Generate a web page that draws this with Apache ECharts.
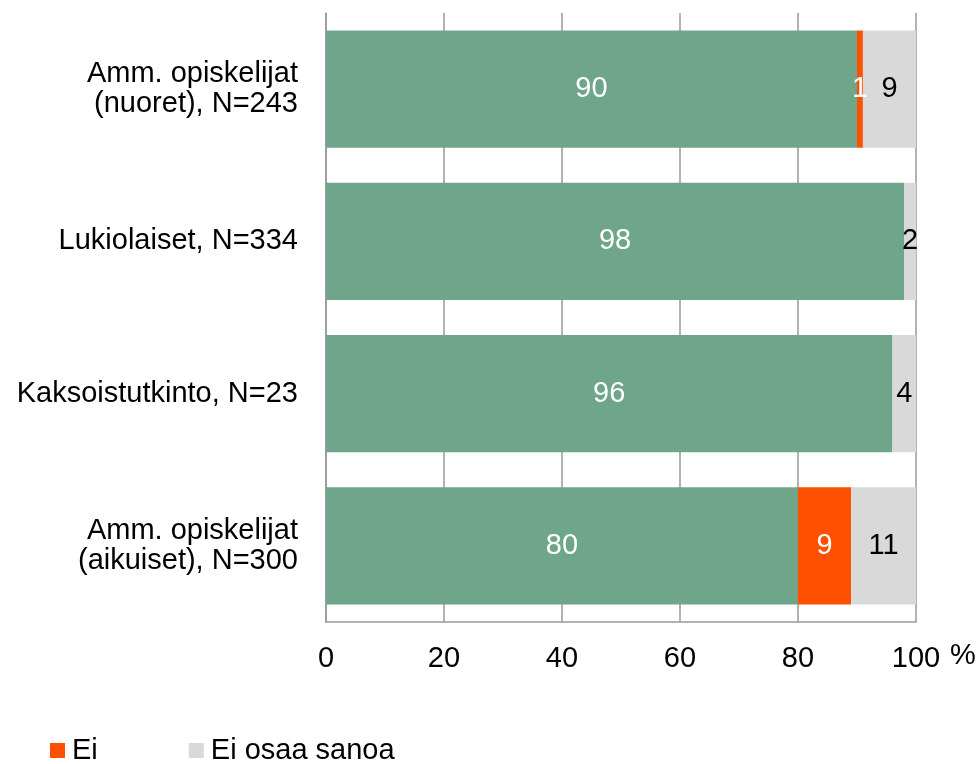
<!DOCTYPE html>
<html><head><meta charset="utf-8">
<script src="https://cdn.jsdelivr.net/npm/echarts@6/dist/echarts.min.js"></script>
<style>html,body{margin:0;padding:0;background:#fff}#c{width:978px;height:764px}</style>
</head><body><div id="c"></div>
<script>
const categories = ['Amm. opiskelijat\n(nuoret), N=243', 'Lukiolaiset, N=334', 'Kaksoistutkinto, N=23', 'Amm. opiskelijat\n(aikuiset), N=300'];
const kylla = [90, 98, 96, 80];
const ei = [1, 0, 0, 9];
const eos = [9, 2, 4, 11];
const xTicks = [0, 20, 40, 60, 80, 100];
const unitLabel = '%';

const font = 'Liberation Sans, Arial, sans-serif';
const FS = 29;
const chart = echarts.init(document.getElementById('c'));
const lbl = (color) => ({
  show: true, position: 'inside', color: color, fontSize: FS, fontFamily: font,
  formatter: p => (p.value ? p.value : '')
});
chart.setOption({
  animation: false,
  grid: { left: 326, right: 62, top: 13, bottom: 142, containLabel: false },
  xAxis: {
    type: 'value', min: 0, max: 100, interval: 20,
    axisLine: { show: true, lineStyle: { color: '#999', width: 1.5 } },
    axisTick: { show: false },
    axisLabel: { fontSize: FS, fontFamily: font, color: '#000', margin: 22,
      formatter: v => (xTicks.indexOf(v) >= 0 ? String(v) : '') },
    splitLine: { show: true, lineStyle: { color: '#999', width: 1.5 } }
  },
  yAxis: {
    type: 'category', data: categories, inverse: true,
    axisLine: { show: true, lineStyle: { color: '#999', width: 1.5 } },
    axisTick: { show: false },
    axisLabel: { fontSize: FS, fontFamily: font, color: '#000', margin: 28, lineHeight: 30, align: 'right' }
  },
  graphic: [{
    type: 'text', left: 950, top: 641,
    style: { text: unitLabel, fontSize: FS, fontFamily: font, fill: '#000' }
  }],
  legend: {
    data: ['Ei', 'Ei osaa sanoa'], left: 45, top: 731,
    itemWidth: 15, itemHeight: 15, itemGap: 91, icon: 'rect',
    textStyle: { fontSize: FS, fontFamily: font, color: '#000', padding: [0, 0, 0, 2] }
  },
  series: [
    { name: 'Kyllä', type: 'bar', stack: 'a', data: kylla, barCategoryGap: '23%',
      itemStyle: { color: '#6FA58A' }, label: lbl('#fff') },
    { name: 'Ei', type: 'bar', stack: 'a', data: ei,
      itemStyle: { color: '#FF5000' }, label: lbl('#fff') },
    { name: 'Ei osaa sanoa', type: 'bar', stack: 'a', data: eos,
      itemStyle: { color: '#D9D9D9' }, label: lbl('#000') }
  ]
});
</script></body></html>
